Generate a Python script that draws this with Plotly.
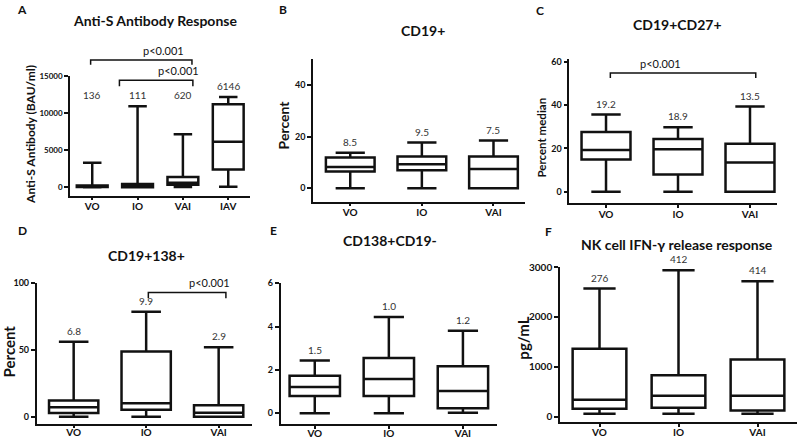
"""Six box-plot panels: antibody, B-cell subsets and NK cell IFN-g response by group"""

import plotly.graph_objects as go

W, H = 797, 439
FONT = 'Lato'
INK = '#111111'

GROUPS = ['VO', 'IO', 'VAI']
GROUPS_A = ['VO', 'IO', 'VAI', 'IAV']

# A - Anti-S antibody (BAU/ml)
anti_s_low = [0, 0, 50, 80]
anti_s_q1 = [40, 20, 350, 2390]
anti_s_med = [136, 111, 620, 6146]
anti_s_q3 = [265, 440, 1410, 11180]
anti_s_high = [3320, 10900, 7160, 12150]
anti_s_labels = ['136', '111', '620', '6146']

# B - CD19+ (percent)
cd19_low = [0, 0, 0]
cd19_q1 = [6.5, 7.0, 0]
cd19_med = [8.2, 9.3, 7.4]
cd19_q3 = [11.9, 12.3, 12.3]
cd19_high = [13.8, 17.7, 18.5]
cd19_labels = ['8.5', '9.5', '7.5']

# C - CD19+CD27+ (percent median)
cd27_low = [0, 0, 0]
cd27_q1 = [14.9, 8.0, 0]
cd27_med = [19.3, 19.6, 13.5]
cd27_q3 = [27.5, 24.3, 22.1]
cd27_high = [35.6, 29.7, 39.3]
cd27_labels = ['19.2', '18.9', '13.5']

# D - CD19+138+ (percent)
cd138_low = [0, 0, 0]
cd138_q1 = [2.7, 5.1, 0]
cd138_med = [7.1, 10.0, 2.9]
cd138_q3 = [12.0, 48.6, 8.5]
cd138_high = [55.9, 78.2, 51.8]
cd138_labels = ['6.8', '9.9', '2.9']

# E - CD138+CD19-
cd138neg_low = [0, 0, 0.02]
cd138neg_q1 = [0.79, 0.79, 0.23]
cd138neg_med = [1.21, 1.58, 1.02]
cd138neg_q3 = [1.73, 2.55, 2.17]
cd138neg_high = [2.43, 4.44, 3.8]
cd138neg_labels = ['1.5', '1.0', '1.2']

# F - NK cell IFN-g release (pg/mL)
nk_low = [59, 59, 59]
nk_q1 = [158, 178, 124]
nk_med = [341, 420, 420]
nk_q3 = [1361, 828, 1144]
nk_high = [2570, 2939, 2714]
nk_labels = ['276', '412', '414']

P_TEXT = 'p<0.001'

# panel frames in pixels: (left, right, top, bottom) of the axis lines
FRAMES = {
    1: (70, 250, 70, 191.7),
    2: (313, 525, 53.3, 197.7),
    3: (569.3, 777, 53.3, 199),
    4: (36.7, 252, 280, 423.3),
    5: (280.7, 497, 280.7, 424),
    6: (560, 797, 264.3, 421.7),
}
XRANGES = {1: [-0.49, 3.48], 2: [-0.52, 2.44], 3: [-0.51, 2.375],
           4: [-0.51, 2.46], 5: [-0.46, 2.46], 6: [-0.5, 2.5]}
YRANGES = {1: [-1114, 15000], 2: [-5.2, 50], 3: [-5.1, 61],
           4: [-5.1, 100], 5: [-0.51, 6], 6: [-107, 3000]}
YTICKS = {1: [0, 5000, 10000, 15000], 2: [0, 20, 40], 3: [0, 20, 40, 60],
          4: [0, 50, 100], 5: [0, 2, 4, 6], 6: [0, 1000, 2000, 3000]}


def px(x, y):
    """pixel position -> paper coords"""
    return x / W, 1 - y / H


def data_to_px(n, xv, yv):
    left, right, top, bottom = FRAMES[n]
    x0, x1 = XRANGES[n]
    y0, y1 = YRANGES[n]
    xp = left + (xv - x0) / (x1 - x0) * (right - left)
    yp = bottom - (yv - y0) / (y1 - y0) * (bottom - top)
    return xp, yp


fig = go.Figure()
annotations = []
shapes = []


def add_panel(n, cats, low, q1, med, q3, high, labels, tick_size=9, label_ys=None,
              xlab_shift=-2):
    """Box plot from precomputed stats plus the value labels above each whisker"""
    sfx = '' if n == 1 else str(n)
    fig.add_trace(go.Box(
        x=cats, q1=q1, median=med, q3=q3, lowerfence=low, upperfence=high,
        xaxis='x' + sfx, yaxis='y' + sfx,
        fillcolor='white', line=dict(color=INK, width=2.5),
        whiskerwidth=0.6, width=0.68, boxpoints=False,
        showlegend=False, hoverinfo='skip'))

    left, right, top, bottom = FRAMES[n]
    xl, yt = px(left, top)
    xr, yb = px(right, bottom)
    axis = dict(showgrid=False, zeroline=False, showline=True, linecolor=INK,
                linewidth=1.6, ticks='outside', ticklen=4, tickwidth=1.5,
                tickcolor=INK, fixedrange=True)
    fig.update_layout(**{
        'xaxis' + sfx: dict(axis, domain=[xl, min(xr, 1)], anchor='y' + sfx,
                            type='category', categoryarray=cats, range=XRANGES[n],
                            ticklen=3, ticklabelstandoff=xlab_shift,
                            tickfont=dict(family=FONT, size=10, color=INK, weight='bold')),
        'yaxis' + sfx: dict(axis, domain=[yb, yt], anchor='x' + sfx,
                            range=YRANGES[n], tickvals=YTICKS[n], tickformat='d',
                            tickfont=dict(family=FONT, size=tick_size, color=INK, weight='bold')),
    })

    for i, lab in enumerate(labels):
        yv = high[i] if label_ys is None else label_ys[i]
        annotations.append(dict(
            x=cats[i], y=yv, xref='x' + sfx, yref='y' + sfx, text=lab,
            showarrow=False, yanchor='bottom', yshift=3,
            font=dict(family=FONT, size=10, color='#333333')))


def add_bracket(n, xa, xb, yv, drop_px=5):
    """significance bracket between two category positions, with p text on top"""
    x0, y = data_to_px(n, xa, yv)
    x1, _ = data_to_px(n, xb, yv)
    pts = [px(x0, y + drop_px), px(x0, y), px(x1, y), px(x1, y + drop_px)]
    path = 'M ' + ' L '.join(f'{a},{b}' for a, b in pts)
    shapes.append(dict(type='path', path=path, xref='paper', yref='paper',
                       line=dict(color=INK, width=1.5)))
    tx, ty = px((x0 + x1) / 2, y)
    annotations.append(dict(x=tx, y=ty, xref='paper', yref='paper', text=P_TEXT,
                            showarrow=False, yanchor='bottom', yshift=1,
                            font=dict(family=FONT, size=11, color=INK)))


def add_text(x, y, text, size, angle=0, bold=True):
    xp, yp = px(x, y)
    # small lift: plotly centres the full line box, which sits the glyphs low
    annotations.append(dict(x=xp, y=yp, xref='paper', yref='paper', text=text,
                            showarrow=False, textangle=angle,
                            xanchor='center', yanchor='middle',
                            yshift=0 if angle else 3,
                            font=dict(family=FONT, size=size, color=INK,
                                      weight='bold' if bold else 'normal')))


# A: VO/IO/VAI labels sit on one row above the tallest of those whiskers
row_a = max(anti_s_high[:3])
add_panel(1, GROUPS_A, anti_s_low, anti_s_q1, anti_s_med, anti_s_q3, anti_s_high,
          anti_s_labels, tick_size=8, label_ys=[row_a, row_a, row_a, anti_s_high[3]])
add_panel(2, GROUPS, cd19_low, cd19_q1, cd19_med, cd19_q3, cd19_high, cd19_labels)
add_panel(3, GROUPS, cd27_low, cd27_q1, cd27_med, cd27_q3, cd27_high, cd27_labels)
add_panel(4, GROUPS, cd138_low, cd138_q1, cd138_med, cd138_q3, cd138_high, cd138_labels,
          xlab_shift=-4)
add_panel(5, GROUPS, cd138neg_low, cd138neg_q1, cd138neg_med, cd138neg_q3,
          cd138neg_high, cd138neg_labels, xlab_shift=-4)
add_panel(6, GROUPS, nk_low, nk_q1, nk_med, nk_q3, nk_high, nk_labels, tick_size=10,
          xlab_shift=-3)

# significance brackets
add_bracket(1, -0.035, 2.2, 17150)
add_bracket(1, 0.6, 2.22, 14400, drop_px=6)
add_bracket(3, 0.06, 2.08, 54.7)
add_bracket(4, 1.03, 2.1, 92.6, drop_px=6)

# panel titles
add_text(155, 17, 'Anti-S Antibody Response', 14)
add_text(423, 27, 'CD19+', 14)
add_text(677, 20.7, 'CD19+CD27+', 14)
add_text(146, 255.7, 'CD19+138+', 14)
add_text(390, 240.7, 'CD138+CD19-', 14)
add_text(676.7, 244.7, 'NK cell IFN-γ release response', 14)

# panel letters
for (x, y), letter in zip([(22, 6), (283, 6), (540, 7), (22, 230), (273, 230), (548, 231)],
                          'ABCDEF'):
    add_text(x, y, letter, 12)

# y axis titles
add_text(31, 130, 'Anti-S Antibody (BAU/ml)', 12, angle=-90)
add_text(283.3, 120, 'Percent', 14, angle=-90)
add_text(541.7, 133, 'Percent median', 11.5, angle=-90)
add_text(9, 350, 'Percent', 15, angle=-90)
add_text(523.3, 336.7, 'pg/mL', 15, angle=-90)

fig.update_layout(
    width=W, height=H,
    margin=dict(l=0, r=0, t=0, b=0),
    paper_bgcolor='white', plot_bgcolor='white',
    font=dict(family=FONT, color=INK),
    annotations=annotations,
    shapes=shapes,
)

# drop the browser's default 8px body margin so the figure fills the window
fig.write_html("out.html", config={'displayModeBar': False},
               post_script="document.body.style.margin = '0';")
